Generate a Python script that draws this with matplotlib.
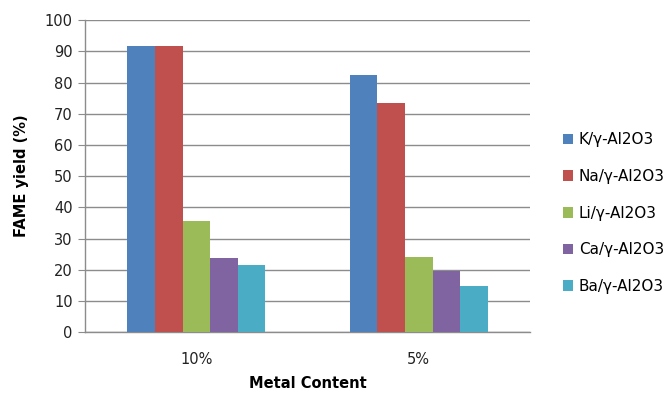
import matplotlib
matplotlib.use("Agg")
import matplotlib.pyplot as plt
import numpy as np

categories = ["10%", "5%"]
series_names = ["K/γ-Al2O3", "Na/γ-Al2O3", "Li/γ-Al2O3", "Ca/γ-Al2O3", "Ba/γ-Al2O3"]
k_vals = [91.8, 82.4]
na_vals = [91.8, 73.4]
li_vals = [35.6, 24.1]
ca_vals = [23.8, 19.6]
ba_vals = [21.5, 14.7]
colors = ["#4F81BD", "#C0504D", "#9BBB59", "#8064A2", "#4BACC6"]
y_ticks = list(range(0, 101, 10))

series = [k_vals, na_vals, li_vals, ca_vals, ba_vals]

fig = plt.figure(figsize=(6.7, 3.95), dpi=100)
ax = fig.add_axes([0.127, 0.159, 0.664, 0.790])

x = np.arange(len(categories))
width = 0.124
n = len(series)
for i, (vals, name, c) in enumerate(zip(series, series_names, colors)):
    offs = (i - (n - 1) / 2) * width
    ax.bar(x + offs, vals, width=width, color=c, label=name, zorder=3,
           edgecolor="none")

ax.set_xlim(-0.5, 1.5)
ax.set_ylim(0, 100)
ax.set_yticks(y_ticks)
ax.set_xticks(x)
ax.set_xticklabels(categories)
ax.yaxis.grid(True, color="#8c8c8c", linewidth=1.0, zorder=0)
ax.set_axisbelow(True)

for side in ["top", "right"]:
    ax.spines[side].set_visible(False)
ax.spines["left"].set_color("#8c8c8c")
ax.spines["bottom"].set_color("#8c8c8c")
ax.spines["left"].set_linewidth(1.0)
ax.spines["bottom"].set_linewidth(1.0)

ax.tick_params(axis="y", length=5, color="#8c8c8c", labelsize=10.5, pad=4,
               labelcolor="#222222")
ax.tick_params(axis="x", length=0, labelsize=10.5, pad=14, labelcolor="#222222")

ax.set_ylabel("FAME yield (%)", fontsize=10.5, fontweight="bold", labelpad=11)
ax.set_xlabel("Metal Content", fontsize=10.5, fontweight="bold", labelpad=7)

leg = ax.legend(loc="upper left", bbox_to_anchor=(1.06, 0.66), frameon=False,
                fontsize=11, handlelength=0.7, handleheight=0.7,
                handletextpad=0.35, labelspacing=1.42, borderaxespad=0)

fig.savefig("out.png", dpi=100)
